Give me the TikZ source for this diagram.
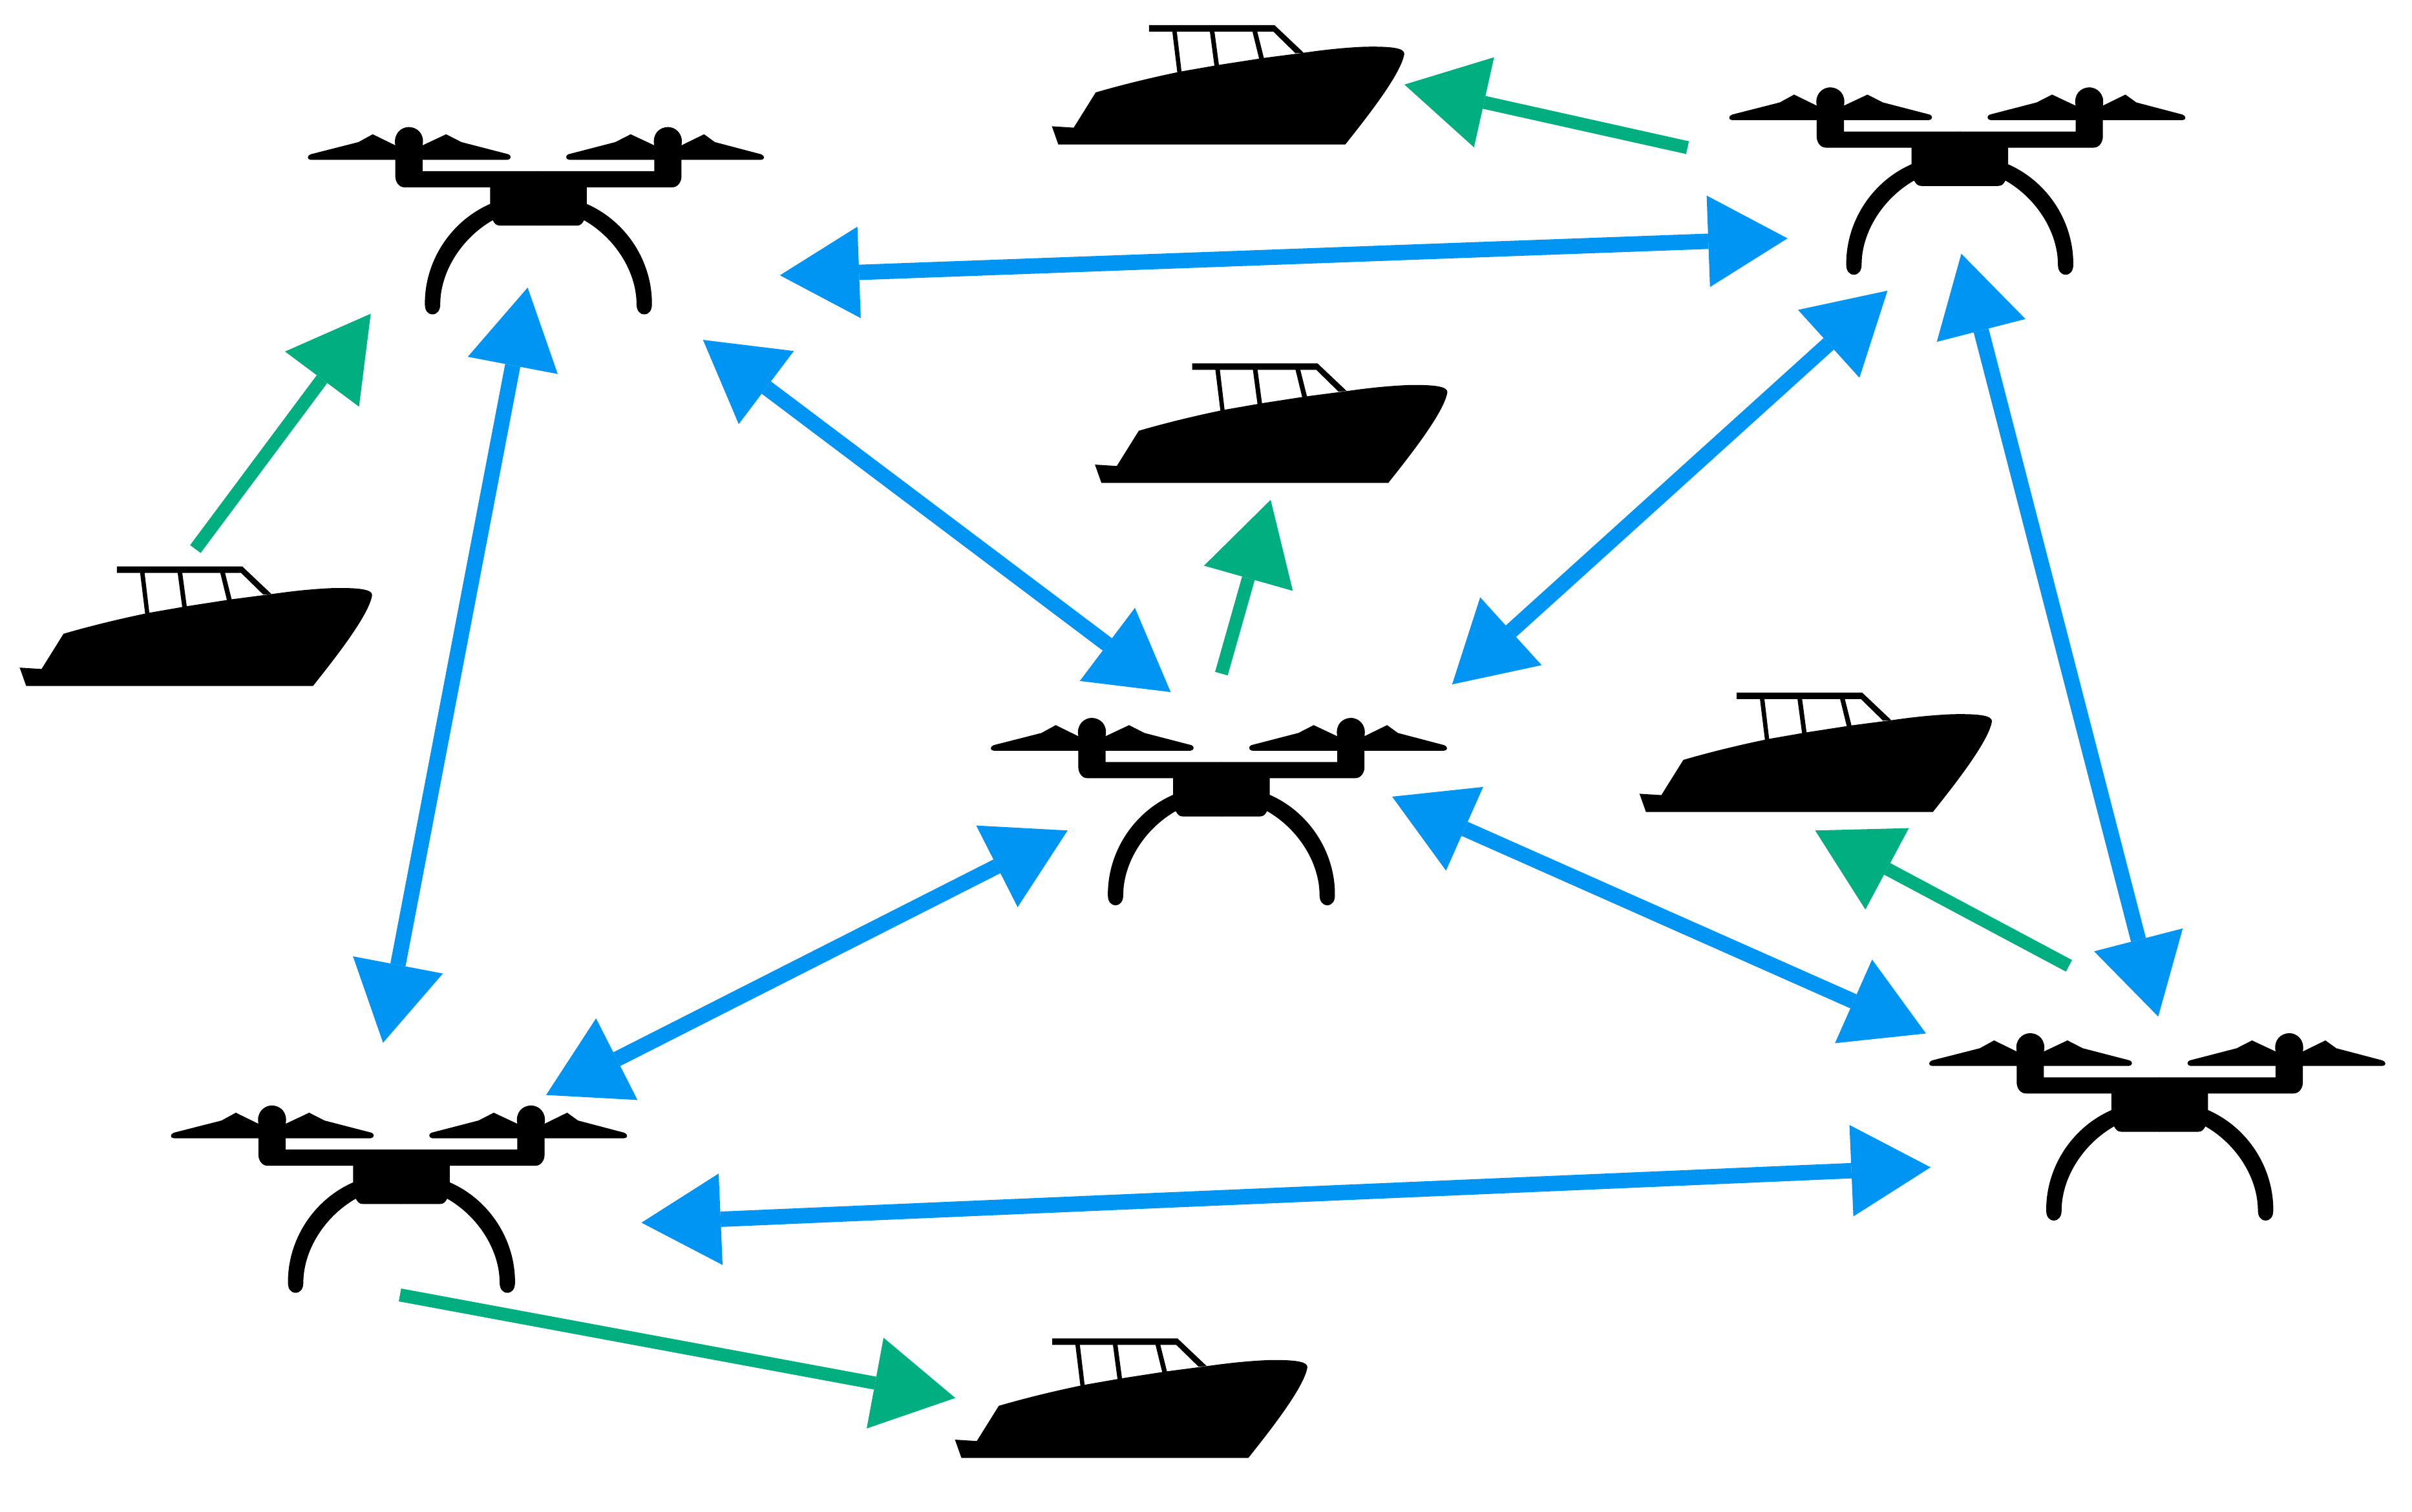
\documentclass[tikz,border=0pt]{standalone}
\usetikzlibrary{arrows.meta}
\definecolor{linkblue}{HTML}{0095F3}
\definecolor{linkgreen}{HTML}{00AE80}
\newcommand{\dronehalf}[2]{%
    \fill[black,xscale=#1] ({-148+#2},-17.9) .. controls ({-150.5+#2},-18) and ({-150.5+#2},-20.6) .. ({-148+#2},-21.5)
      -- ({-117+#2*0.7},-29.4) -- (-107.7,-34.5) -- (-93,-27.3)
      .. controls (-94.5,-35) and (-89,-39.2) .. (-84.3,-39.2)
      .. controls (-79,-39.2) and (-73.8,-35) .. (-75.3,-27.3)
      -- (-60,-34.5) -- (-50,-29.4) -- (-19.5,-21.5)
      .. controls (-17.5,-20.8) and (-17.5,-18.2) .. (-20,-17.9)
      -- (-75.3,-17.9) -- (-75.3,-10.5) -- (0.2,-10.5) -- (0.2,0) -- (-87,0)
      .. controls (-91,0) and (-93,-4) .. (-93,-7) -- (-93,-17.9) -- cycle;
    \fill[black,xscale=#1] (0.2,-1) -- (-31.4,-1) -- (-31.4,10.8)
      .. controls (-57,22) and (-74,48) .. (-73.8,76)
      .. controls (-73.8,80) and (-72,82.6) .. (-68.8,82.6)
      .. controls (-65.8,82.6) and (-63.8,80) .. (-63.8,76)
      .. controls (-63.8,55) and (-50,33) .. (-29.7,21.4)
      .. controls (-28.5,23.5) and (-27.5,24.9) .. (-25,24.9) -- (0.2,24.9) -- cycle;
}
\tikzset{
  drone/.pic={\dronehalf{1}{0}\dronehalf{-1}{3.2}},
  boat/.pic={
    \fill[black] (0,0) -- (186.5,0)
      .. controls (200,-17) and (223,-46) .. (224.9,-59)
      .. controls (225,-62.5) and (218,-64) .. (199,-63.6)
      .. controls (185,-63) and (172,-61.5) .. (159.5,-59.7)
      -- (133.4,-56.3) -- (104.3,-51.8) -- (80.2,-47.6)
      .. controls (60,-43.5) and (40,-38.5) .. (24.3,-33.9)
      -- (10,-11) -- (-4.2,-11.9) -- cycle;
    \fill[black] (59,-77.7) -- (140.5,-77.7) -- (159.5,-59.7) -- (154.1,-59.4)
      -- (139.7,-73.5) -- (129.3,-73.5) -- (133.8,-55.5) -- (130.6,-55.5) -- (126.2,-73.5)
      -- (101.5,-73.5) -- (104.5,-51) -- (101.5,-51) -- (98.5,-73.5)
      -- (77,-73.5) -- (80.2,-46.5) -- (77.4,-46.5) -- (74.1,-73.5)
      -- (59,-73.5) -- cycle;
  },
  bluelink/.style={draw=linkblue,line width=10pt,
    {Triangle[length=51.5pt,width=59.5pt,line width=0pt,fill=linkblue]}-{Triangle[length=51.5pt,width=59.5pt,line width=0pt,fill=linkblue]}},
  greenlink/.style={draw=linkgreen,line width=8.5pt,
    -{Triangle[length=53pt,width=60pt,line width=0pt,fill=linkgreen]}}
}
\begin{document}
\begin{tikzpicture}[x=1pt,y=-1pt]
\useasboundingbox[fill=white] (0,0) rectangle (1568,983.1);
% drones
\pic at (350,121.8) {drone};
\pic at (1274,96) {drone};
\pic at (794,506) {drone};
\pic at (261,758) {drone};
\pic at (1404,711) {drone};
% boats
\pic at (17,446) {boat};
\pic at (688,94) {boat};
\pic at (716,314) {boat};
\pic at (1070,528) {boat};
\pic at (625,948) {boat};
% link ends
\coordinate (a1s) at (507,179);   \coordinate (a1e) at (1162,155);
\coordinate (a2s) at (343,187);   \coordinate (a2e) at (249,678);
\coordinate (a3s) at (457,221);   \coordinate (a3e) at (761,450);
\coordinate (a4s) at (1227,189);  \coordinate (a4e) at (944,445);
\coordinate (a5s) at (1275,165);  \coordinate (a5e) at (1403,661);
\coordinate (a6s) at (694,540);   \coordinate (a6e) at (355,712);
\coordinate (a7s) at (905,518);   \coordinate (a7e) at (1252,672);
\coordinate (a8s) at (417,795);   \coordinate (a8e) at (1255,759);
\coordinate (g1s) at (127,357);   \coordinate (g1e) at (241,204);
\coordinate (g2s) at (1097,96);   \coordinate (g2e) at (913,55);
\coordinate (g3s) at (794,438);   \coordinate (g3e) at (826,325);
\coordinate (g4s) at (1345,628);  \coordinate (g4e) at (1180,540);
\coordinate (g5s) at (260,842);   \coordinate (g5e) at (621,909);
\foreach \n in {a1,a2,a3,a4,a5,a6,a7,a8}
  \draw[bluelink] (\n s) -- (\n e);
\foreach \n in {g1,g2,g3,g4,g5}
  \draw[greenlink] (\n s) -- (\n e);
\end{tikzpicture}
\end{document}
